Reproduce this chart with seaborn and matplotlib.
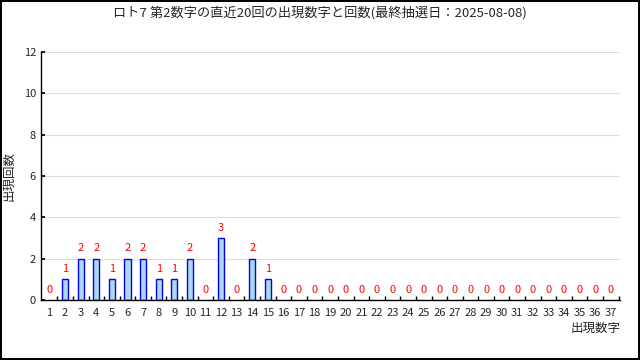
import matplotlib
matplotlib.use("Agg")
import matplotlib.pyplot as plt
import pandas as pd
import seaborn as sns
import numpy as np

# data
numbers = list(range(1, 38))
counts = [0, 1, 2, 2, 1, 2, 2, 1, 1, 2, 0, 3, 0, 2, 1] + [0] * 22

title = "ロト7 第2数字の直近20回の出現数字と回数(最終抽選日：2025-08-08)"
y_ticks = [0, 2, 4, 6, 8, 10, 12]

sns.set_theme(style="white")
plt.rcParams['font.family'] = ['Noto Sans CJK JP', 'DejaVu Sans']

df = pd.DataFrame({'num': [str(n) for n in numbers], 'count': counts})

fig = plt.figure(figsize=(6.4, 3.6), dpi=100)
fig.patch.set_edgecolor('black')
fig.patch.set_linewidth(1.5)
ax = fig.add_axes([0.064, 0.167, 0.905, 0.689])

sns.barplot(data=df, x='num', y='count', ax=ax, width=0.4,
            color='#add8e6', edgecolor='blue', linewidth=1.0, saturation=1)

# hide outlines of empty bars
for p in ax.patches:
    if p.get_height() == 0:
        p.set_visible(False)

ax.set_ylim(0, 12)
ax.set_xlim(-0.55, 36.6)
ax.set_yticks(y_ticks)
ax.grid(True, axis='y', color='#dddddd', linewidth=0.8)
ax.set_axisbelow(True)
for s in ['top', 'right']:
    ax.spines[s].set_visible(False)
for s in ['left', 'bottom']:
    ax.spines[s].set_color('black')
    ax.spines[s].set_linewidth(1)

ax.tick_params(axis='x', which='major', length=0, labelsize=8, pad=6)
ax.set_xticks(np.arange(0, 37) + 0.5, minor=True)
ax.tick_params(axis='x', which='minor', direction='in', length=3, color='black', bottom=True)
ax.tick_params(axis='y', direction='in', length=3, labelsize=8, color='black', left=True)

for i, c in enumerate(counts):
    ax.text(i, c + 0.25, str(c), ha='center', va='bottom', color='red', fontsize=8)

ax.set_xlabel("出現数字", fontsize=9)
ax.xaxis.set_label_coords(1.0, -0.09)
ax.xaxis.label.set_horizontalalignment('right')
ax.set_ylabel("出現回数", fontsize=9)
ax.yaxis.set_label_coords(-0.045, 0.5)

fig.text(0.5, 0.965, title, ha='center', va='center', fontsize=9.5)

fig.savefig("out.png", dpi=100)
